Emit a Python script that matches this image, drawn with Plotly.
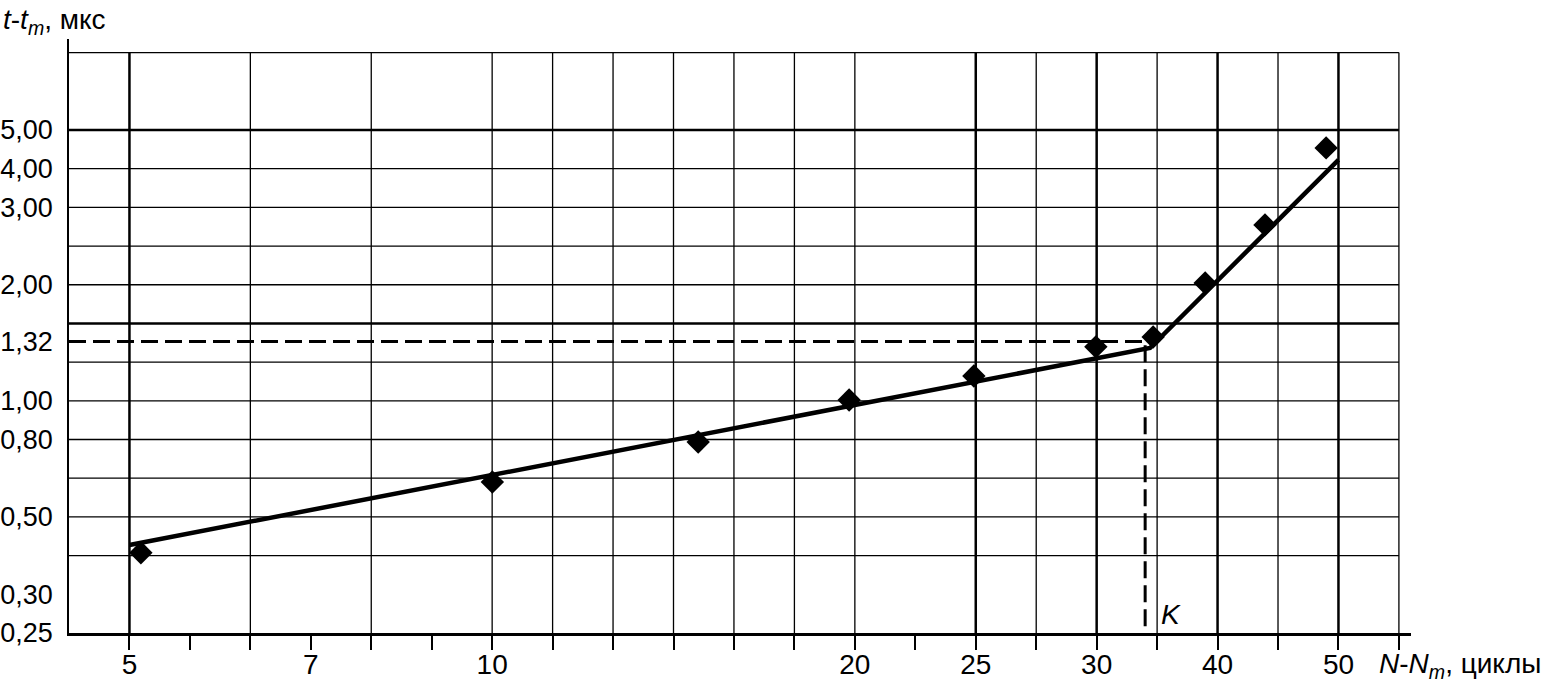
import math
import plotly.graph_objects as go

# ---- data ----
x_points = [5.11, 9.98, 14.77, 19.69, 24.97, 31.5, 35.13, 38.79, 43.47, 48.84]
y_points = [0.403, 0.614, 0.779, 1.000, 1.154, 1.372, 1.455, 2.007, 2.835, 4.483]

fit_x = [5.0, 34.92, 50.0]
fit_y = [0.422, 1.363, 4.174]

K_x = 34.6
K_y = 1.417
K_label = "1,32"

# tick labels sit on the log grid of the original paper
x_tick_labels = ["5", "7", "10", "20", "25", "30", "40", "50"]
x_tick_steps = [0, 3, 6, 12, 14, 16, 18, 20]
y_tick_labels = ["0,25", "0,30", "0,50", "0,80", "1,00", "2,00", "3,00", "4,00", "5,00"]
y_tick_steps = [0, 1, 3, 5, 6, 9, 11, 12, 13]

# grid of the original (log paper)
X_BASE, X_STEP, X_NSTEPS = 5.0, 0.05, 21
Y_BASE, Y_STEP, Y_NSTEPS = 0.25, 0.1, 15
x_grid_thin = [2, 4, 6, 7, 8, 9, 10, 11, 12, 15, 17, 19, 21]
x_grid_thick = [0, 14, 16, 18, 20]
y_grid_thin = [2, 3, 4, 5, 6, 7, 9, 10, 11, 12, 15]
y_grid_thick = [8, 13]


def xg(k):
    return X_BASE * 10 ** (X_STEP * k)


def yg(k):
    return Y_BASE * 10 ** (Y_STEP * k)


x_range = [math.log10(X_BASE) - 0.05, math.log10(X_BASE) + 1.06]
y_range = [math.log10(Y_BASE), math.log10(Y_BASE) + 1.535]
x_left = 10 ** x_range[0]

FONT = "Liberation Sans, Arial, sans-serif"
FS = 28

fig = go.Figure()

# dashed lines to the knee K
fig.add_trace(go.Scatter(x=[x_left, K_x, K_x], y=[K_y, K_y, Y_BASE], mode="lines",
                         line=dict(color="black", width=3, dash="17px,7px"),
                         hoverinfo="skip", showlegend=False))
# fitted line
fig.add_trace(go.Scatter(x=fit_x, y=fit_y, mode="lines",
                         line=dict(color="black", width=4.5),
                         hoverinfo="skip", showlegend=False))
# measured points
fig.add_trace(go.Scatter(x=x_points, y=y_points, mode="markers",
                         marker=dict(symbol="diamond", size=18, color="black"),
                         showlegend=False))

shapes = []
for ks, w in ((x_grid_thin, 1.3), (x_grid_thick, 2.5)):
    for k in ks:
        shapes.append(dict(type="line", xref="x", yref="y", x0=xg(k), x1=xg(k),
                           y0=Y_BASE, y1=yg(Y_NSTEPS), layer="below",
                           line=dict(color="black", width=w)))
for ks, w in ((y_grid_thin, 1.3), (y_grid_thick, 2.5)):
    for k in ks:
        shapes.append(dict(type="line", xref="x", yref="y", x0=x_left, x1=xg(X_NSTEPS),
                           y0=yg(k), y1=yg(k), layer="below",
                           line=dict(color="black", width=w)))

x_tickvals = [xg(k) for k in range(X_NSTEPS + 1)]
x_ticktext = [""] * len(x_tickvals)
for lab, k in zip(x_tick_labels, x_tick_steps):
    x_ticktext[k] = lab

y_tickvals = [yg(k) for k in y_tick_steps] + [K_y]
y_ticktext = list(y_tick_labels) + [K_label]

annotations = [
    dict(text="<i>t</i>-<i>t</i><sub><i>m</i></sub>, мкс", xref="paper", yref="paper",
         x=-68 / 1342, y=1.062, xanchor="left", yanchor="top", showarrow=False,
         font=dict(family=FONT, size=FS, color="black")),
    dict(text="<i>N</i>-<i>N</i><sub><i>m</i></sub>, циклы", xref="paper", yref="paper",
         x=0.9745, y=-0.055, xanchor="left", yanchor="middle", showarrow=False,
         font=dict(family=FONT, size=FS, color="black")),
    dict(text="<i>K</i>", xref="x", yref="y", x=math.log10(K_x), y=math.log10(Y_BASE),
         xanchor="left", yanchor="bottom", xshift=14, yshift=1, showarrow=False,
         font=dict(family=FONT, size=FS, color="black")),
]

fig.update_layout(
    width=1554, height=688,
    margin=dict(l=69, r=143, t=39, b=55, autoexpand=False),
    paper_bgcolor="white", plot_bgcolor="white",
    font=dict(family=FONT, size=FS, color="black"),
    shapes=shapes, annotations=annotations,
    xaxis=dict(type="log", range=x_range, tickmode="array", tickvals=x_tickvals,
               ticktext=x_ticktext, ticks="outside", ticklen=14, tickwidth=1.5,
               tickcolor="black", showline=True, linewidth=3, linecolor="black",
               showgrid=False, zeroline=False, tickfont=dict(size=FS),
               ticklabelstandoff=-10),
    yaxis=dict(type="log", range=y_range, tickmode="array", tickvals=y_tickvals,
               ticktext=y_ticktext, ticks="", showline=True, linewidth=1.5,
               linecolor="black", showgrid=False, zeroline=False,
               ticklabelstandoff=9, tickfont=dict(size=27)),
)

fig.write_html("out.html", config={"displayModeBar": False},
               post_script="document.body.style.margin='0px';")
